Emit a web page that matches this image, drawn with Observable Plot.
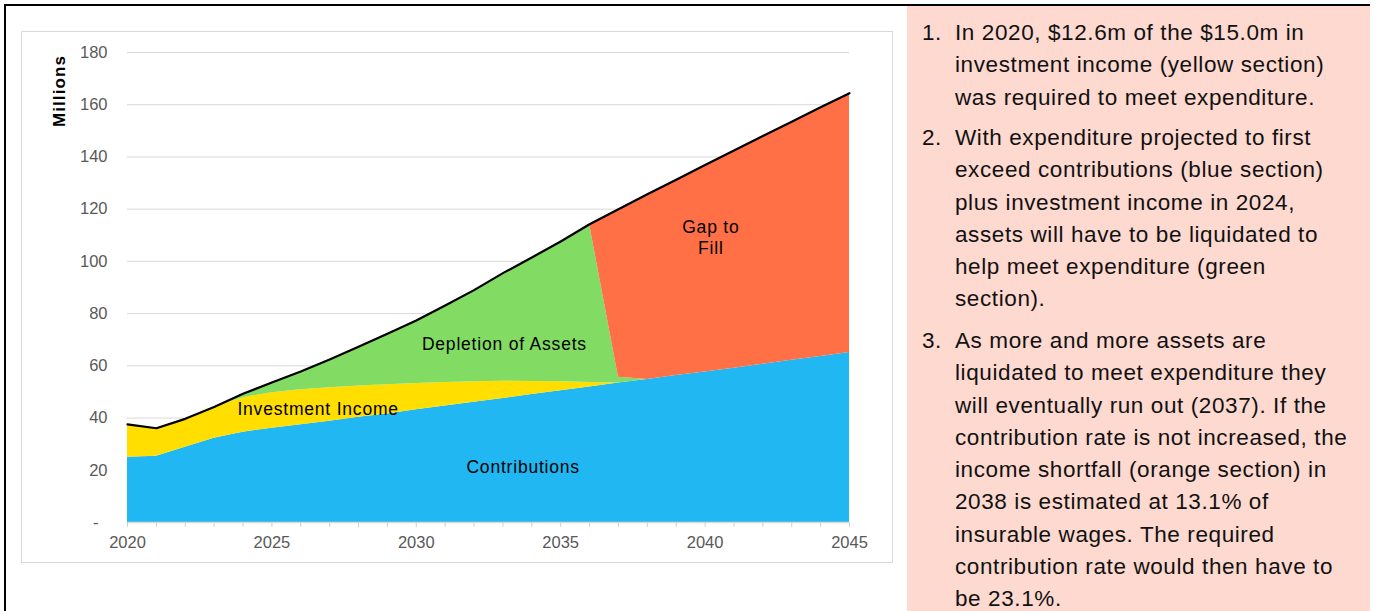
<!DOCTYPE html>
<html>
<head>
<meta charset="utf-8">
<script src="https://cdn.jsdelivr.net/npm/d3@7"></script>
<script src="https://cdn.jsdelivr.net/npm/@observablehq/plot@0.6"></script>
<style>
  html, body { margin: 0; padding: 0; background: #fff; overflow: hidden; }
  body { width: 1378px; height: 611px; position: relative; font-family: "Liberation Sans", Arial, sans-serif; }
  #frame { position: absolute; left: 4px; top: 4px; width: 1366px; height: 700px; border: 2px solid #000; box-sizing: border-box; }
  #panel { position: absolute; left: 21px; top: 31px; width: 872px; height: 532px; outline: 1px solid #d9d9d9; outline-offset: -1px; }
  #panel svg { position: absolute; left: 0; top: 0; }
  #ylabel { position: absolute; left: 60px; top: 91px; transform: translate(-50%, -50%) rotate(-90deg); font-weight: bold; font-size: 17px; letter-spacing: 1.1px; color: #000; white-space: nowrap; }
  #notes { position: absolute; left: 907px; top: 6px; width: 463px; height: 620px; background: #FDD9D0; }
  .item { position: absolute; left: 0; font-size: 22.5px; letter-spacing: 0.6px; line-height: 32.3px; color: #111; white-space: nowrap; }
  .item .num { position: absolute; left: 15px; top: 0; }
  .item .txt { position: absolute; left: 48px; top: 0; }
  g[aria-label="text"] text { letter-spacing: 0.8px; }
</style>
</head>
<body>
<div id="frame"></div>
<div id="panel"></div>
<div id="ylabel">Millions</div>
<div id="notes"></div>
<script>
// ---- data (millions) ----
const years = [2020,2021,2022,2023,2024,2025,2026,2027,2028,2029,2030,2031,2032,2033,2034,2035,2036,2037,2038,2039,2040,2041,2042,2043,2044,2045];
const contributions = [25.0,25.4,28.8,32.3,34.6,36.1,37.4,38.8,40.3,41.6,43.2,44.6,46.1,47.5,49.0,50.5,51.9,53.4,54.8,56.3,57.6,59.1,60.6,62.1,63.6,65.1];
const investmentIncome = [12.6,10.7,10.9,11.9,13.2,13.6,13.4,12.8,12.0,11.2,10.0,9.0,7.8,6.6,5.0,3.4,1.7,0,0,0,0,0,0,0,0,0];
const depletionOfAssets = [0,0,0,0,1.5,3.9,7.0,10.8,15.0,19.5,24.2,29.5,35.1,41.4,47.5,53.7,60.6,2.2,0,0,0,0,0,0,0,0];
const gapToFill = [0,0,0,0,0,0,0,0,0,0,0,0,0,0,0,0,0,64.4,70.9,75.0,79.3,83.4,87.4,91.4,95.4,99.3];
const expenditure = [37.6,36.1,39.7,44.2,49.3,53.6,57.8,62.4,67.3,72.3,77.4,83.1,89.0,95.5,101.5,107.6,114.2,120.0,125.7,131.3,136.9,142.5,148.0,153.5,159.0,164.4];

const seriesNames = ["Contributions", "Investment Income", "Depletion of Assets", "Gap to Fill"];
const seriesColors = ["#20B7F3", "#FFDE00", "#82DC64", "#FF7047"];
const yTicks = [20,40,60,80,100,120,140,160,180];
const xLabelYears = [2020,2025,2030,2035,2040,2045];

// in-chart labels: text, year, value
const labelTexts = ["Investment Income", "Contributions", "Depletion of Assets", "Gap to\nFill"];
const labelYears = [2026.6, 2033.7, 2033.05, 2040.2];
const labelValues = [43.7, 21.4, 68.6, 109.3];

const notes = [
  ["In 2020, $12.6m of the $15.0m in", "investment income (yellow section)", "was required to meet expenditure."],
  ["With expenditure projected to first", "exceed contributions (blue section)", "plus investment income in 2024,", "assets will have to be liquidated to", "help meet expenditure (green", "section)."],
  ["As more and more assets are", "liquidated to meet expenditure they", "will eventually run out (2037). If the", "contribution rate is not increased, the", "income shortfall (orange section) in", "2038 is estimated at 13.1% of", "insurable wages. The required", "contribution rate would then have to", "be 23.1%."]
];

// ---- build ----
const seriesValues = [contributions, investmentIncome, depletionOfAssets, gapToFill];
const rows = [];
seriesNames.forEach((name, si) => years.forEach((yr, i) => rows.push({year: yr, series: name, value: seriesValues[si][i]})));
const expRows = years.map((yr, i) => ({year: yr, value: expenditure[i]}));
const labels = labelTexts.map((t, i) => ({text: t, year: labelYears[i], value: labelValues[i]}));

const chart = Plot.plot({
  width: 872, height: 532,
  marginLeft: 106, marginRight: 44, marginTop: 21, marginBottom: 41,
  x: {domain: [2020, 2045]},
  y: {domain: [0, 180]},
  color: {domain: seriesNames, range: seriesColors},
  style: {fontFamily: "'Liberation Sans', Arial, sans-serif", fontSize: "16.5px", background: "transparent", overflow: "visible"},
  marks: [
    Plot.ruleY(yTicks, {stroke: "#d9d9d9", strokeWidth: 1}),
    Plot.areaY(rows, {x: "year", y: "value", z: "series", fill: "series", curve: "linear"}),
    Plot.ruleY([0], {stroke: "#d9d9d9", strokeWidth: 1.3}),
    Plot.lineY(expRows, {x: "year", y: "value", stroke: "#000", strokeWidth: 2.2}),
    Plot.axisX({ticks: years, tickSize: 5, tickFormat: () => "", stroke: "#d0d0d0", label: null}),
    Plot.axisX({ticks: xLabelYears, tickSize: 0, tickPadding: 14, tickFormat: d => String(d), fill: "#595959", label: null}),
    Plot.axisY({ticks: yTicks, tickSize: 0, tickPadding: 20, fill: "#595959", label: null}),
    Plot.axisY({ticks: [0], tickSize: 0, tickPadding: 29, tickFormat: () => "-", fill: "#595959", label: null}),
    Plot.text(labels, {x: "year", y: "value", text: "text", fill: "#000", fontSize: 17.5, lineHeight: 1.2, textAnchor: "middle"})
  ]
});
document.getElementById("panel").appendChild(chart);

const notesEl = document.getElementById("notes");
const itemTops = [11, 116, 319];
notes.forEach((lines, i) => {
  const d = document.createElement("div");
  d.className = "item";
  d.style.top = itemTops[i] + "px";
  const n = document.createElement("span");
  n.className = "num";
  n.textContent = (i + 1) + ".";
  const t = document.createElement("div");
  t.className = "txt";
  t.innerHTML = lines.map(l => l.replace(/&/g, "&amp;")).join("<br>");
  d.appendChild(n); d.appendChild(t);
  notesEl.appendChild(d);
});
</script>
</body>
</html>
